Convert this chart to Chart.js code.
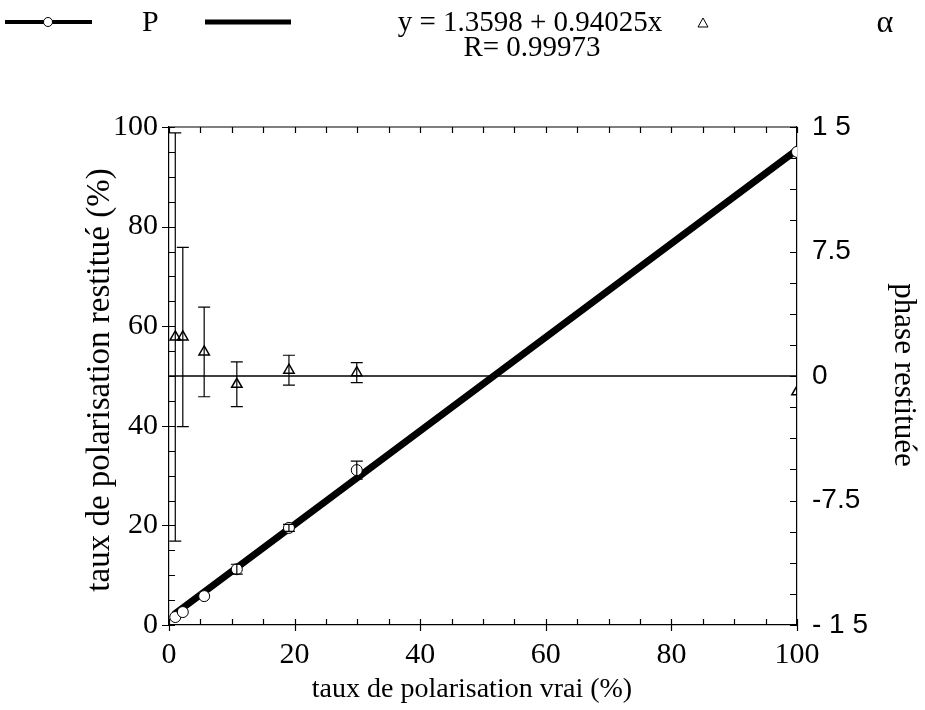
<!DOCTYPE html>
<html>
<head>
<meta charset="utf-8">
<script src="https://cdn.jsdelivr.net/npm/chart.js@4.4.1/dist/chart.umd.min.js"></script>
<style>
  html, body { margin: 0; padding: 0; background: #fff; }
  #wrap { width: 925px; height: 710px; }
</style>
</head>
<body>
<div id="wrap"><canvas id="polarChart" width="925" height="710"></canvas></div>
<script>
// ==========================================
// DATA
// ==========================================

// taux de polarisation vrai (%)
const xVrai = [1.0, 2.2, 5.6, 10.8, 19.1, 29.9, 100];

// P : taux restitue (%)
const pY = [1.6, 2.6, 5.8, 11.2, 19.5, 31.1, 95.0];
const pErr = [0, 0, 0, 1.0, 0.7, 1.8, 0];

// alpha : phase restituee
const alphaY = [2.35, 2.35, 1.45, -0.5, 0.35, 0.2, -0.95];
const alphaErr = [12.3, 5.4, 2.7, 1.35, 0.9, 0.6, 0];

// droite de regression y = 1.3598 + 0.94025x
const fitX = [1.0, 100];
const fitY = [2.3, 95.4];

// ligne phase = 0
const zeroX = [0, 100];
const zeroY = [0, 0];

// ticks
const xMajorTicks = [0, 20, 40, 60, 80, 100];
const yMajorTicks = [0, 20, 40, 60, 80, 100];
const rightTickValues = [-15, -7.5, 0, 7.5, 15];
const rightTickLabels = ["- 1 5", "-7.5", "0", "7.5", "1 5"];

const serif = "'Liberation Serif', 'Times New Roman', serif";
const sans = "'Liberation Sans', Arial, sans-serif";

function pts(xs, ys){
    return xs.map((v, i) => ({ x: v, y: ys[i] }));
}

function rightLabel(v){
    const i = rightTickValues.findIndex(t => Math.abs(t - v) < 1e-6);
    return i < 0 ? "" : rightTickLabels[i];
}

// ==========================================
// PLUGIN : ticks interieurs + cadre
// ==========================================

const axisTicks = {
    id: "axisTicks",
    afterDatasetsDraw(chart){
        const { ctx, chartArea: a, scales } = chart;
        const { x, y, y2 } = scales;
        ctx.save();
        ctx.strokeStyle = "#000";
        ctx.lineWidth = 1.2;
        ctx.beginPath();

        // cadre haut
        ctx.moveTo(a.left, a.top);
        ctx.lineTo(a.right, a.top);

        x.ticks.forEach(t => {
            const px = Math.round(x.getPixelForValue(t.value)) + 0.5;
            const major = xMajorTicks.includes(t.value);
            ctx.moveTo(px, a.bottom + (major ? 6 : 0));
            ctx.lineTo(px, a.bottom - 6);
            ctx.moveTo(px, a.top);
            ctx.lineTo(px, a.top + 6);
        });

        y.ticks.forEach(t => {
            const py = Math.round(y.getPixelForValue(t.value)) + 0.5;
            const major = yMajorTicks.includes(t.value);
            ctx.moveTo(a.left - (major ? 7 : 0), py);
            ctx.lineTo(a.left + 6, py);
        });

        y2.ticks.forEach(t => {
            const py = Math.round(y2.getPixelForValue(t.value)) + 0.5;
            ctx.moveTo(a.right - 7, py);
            ctx.lineTo(a.right, py);
        });

        ctx.stroke();
        ctx.restore();
    }
};

// ==========================================
// PLUGIN : barres d'erreur
// ==========================================

const errorBars = {
    id: "errorBars",
    afterDatasetsDraw(chart){
        const { ctx, chartArea: a, scales } = chart;
        const cap = 6;
        ctx.save();
        ctx.beginPath();
        ctx.rect(a.left, a.top - 2, a.right - a.left, a.bottom - a.top + 4);
        ctx.clip();
        ctx.strokeStyle = "#000";
        ctx.lineWidth = 1.2;

        function bars(ys, errs, scale){
            xVrai.forEach((xv, i) => {
                if(!errs[i]) return;
                const px = scales.x.getPixelForValue(xv);
                const top = scale.getPixelForValue(ys[i] + errs[i]);
                const bot = scale.getPixelForValue(ys[i] - errs[i]);
                ctx.beginPath();
                ctx.moveTo(px, top);
                ctx.lineTo(px, bot);
                ctx.moveTo(px - cap, top);
                ctx.lineTo(px + cap, top);
                ctx.moveTo(px - cap, bot);
                ctx.lineTo(px + cap, bot);
                ctx.stroke();
            });
        }

        bars(alphaY, alphaErr, scales.y2);
        bars(pY, pErr, scales.y);
        ctx.restore();
    }
};

// ==========================================
// PLUGIN : legende + titres
// ==========================================

const textLayer = {
    id: "textLayer",
    afterDraw(chart){
        const { ctx } = chart;
        ctx.save();
        ctx.fillStyle = "#000";
        ctx.strokeStyle = "#000";

        // legende P
        ctx.lineWidth = 4;
        ctx.beginPath();
        ctx.moveTo(5, 22);
        ctx.lineTo(92, 22);
        ctx.stroke();
        ctx.lineWidth = 1;
        ctx.fillStyle = "#fff";
        ctx.beginPath();
        ctx.arc(48, 22, 4.5, 0, Math.PI * 2);
        ctx.fill();
        ctx.stroke();
        ctx.fillStyle = "#000";

        ctx.font = "30px " + serif;
        ctx.textBaseline = "middle";
        ctx.textAlign = "left";
        ctx.fillText("P", 142, 23);

        // legende regression
        ctx.lineWidth = 5;
        ctx.beginPath();
        ctx.moveTo(205, 22);
        ctx.lineTo(291, 22);
        ctx.stroke();

        ctx.textAlign = "center";
        ctx.font = "29px " + serif;
        ctx.fillText("y = 1.3598 + 0.94025x", 530, 23);
        ctx.fillText("R= 0.99973", 532, 48);

        // legende alpha
        ctx.lineWidth = 1;
        ctx.beginPath();
        ctx.moveTo(703, 18);
        ctx.lineTo(708, 27);
        ctx.lineTo(698, 27);
        ctx.closePath();
        ctx.stroke();
        ctx.font = "32px " + serif;
        ctx.fillText("\u03b1", 885, 24);

        // titres des axes
        ctx.font = "28px " + serif;
        ctx.fillText("taux de polarisation vrai (%)", 472, 690);

        ctx.save();
        ctx.font = "33px " + serif;
        ctx.translate(100, 380);
        ctx.rotate(-Math.PI / 2);
        ctx.fillText("taux de polarisation restitu\u00e9 (%)", 0, 0);
        ctx.restore();

        ctx.save();
        ctx.font = "31px " + serif;
        ctx.translate(903, 375);
        ctx.rotate(Math.PI / 2);
        ctx.fillText("phase restitu\u00e9e", 0, 0);
        ctx.restore();

        ctx.restore();
    }
};

// ==========================================
// CHART
// ==========================================

const ctx = document.getElementById("polarChart").getContext("2d");

const chart = new Chart(ctx, {

    type: "scatter",

    data: {
        datasets: [
            {
                label: "P",
                data: pts(xVrai, pY),
                yAxisID: "y",
                showLine: false,
                pointStyle: "circle",
                pointRadius: 5.5,
                pointBorderWidth: 1,
                pointBackgroundColor: "#fff",
                pointBorderColor: "#000"
            },
            {
                label: "alpha",
                data: pts(xVrai, alphaY),
                yAxisID: "y2",
                showLine: false,
                pointStyle: "triangle",
                pointRadius: 6,
                pointBorderWidth: 1.5,
                pointBackgroundColor: "rgba(255,255,255,0)",
                pointBorderColor: "#000"
            },
            {
                label: "fit",
                data: pts(fitX, fitY),
                yAxisID: "y",
                showLine: true,
                borderColor: "#000",
                borderWidth: 7,
                borderCapStyle: "round",
                pointRadius: 0
            },
            {
                label: "zero",
                data: pts(zeroX, zeroY),
                yAxisID: "y2",
                showLine: true,
                borderColor: "#000",
                borderWidth: 1.3,
                pointRadius: 0
            }
        ]
    },

    options: {
        responsive: false,
        animation: false,
        devicePixelRatio: 1,
        layout: { padding: { top: 127, left: 0, right: 0, bottom: 0 } },
        plugins: {
            legend: { display: false },
            tooltip: { enabled: false }
        },
        scales: {
            x: {
                type: "linear",
                position: "bottom",
                min: 0,
                max: 100,
                afterFit: s => { s.height = 85; },
                grid: { drawOnChartArea: false, drawTicks: false },
                border: { color: "#000", width: 1.2 },
                ticks: {
                    stepSize: 5,
                    autoSkip: false,
                    maxRotation: 0,
                    padding: 12,
                    color: "#000",
                    font: { family: serif, size: 30 },
                    callback: v => xMajorTicks.includes(v) ? String(v) : ""
                }
            },
            y: {
                type: "linear",
                position: "left",
                min: 0,
                max: 100,
                afterFit: s => { s.width = 169; },
                grid: { drawOnChartArea: false, drawTicks: false },
                border: { color: "#000", width: 1.2 },
                ticks: {
                    stepSize: 5,
                    autoSkip: false,
                    padding: 11,
                    color: "#000",
                    font: { family: serif, size: 30 },
                    callback: v => yMajorTicks.includes(v) ? String(v) : ""
                }
            },
            y2: {
                type: "linear",
                position: "right",
                min: -15,
                max: 15,
                afterFit: s => { s.width = 128; },
                grid: { drawOnChartArea: false, drawTicks: false },
                border: { color: "#000", width: 1.2 },
                ticks: {
                    stepSize: 1.875,
                    autoSkip: false,
                    padding: 15,
                    color: "#000",
                    font: { family: sans, size: 28 },
                    callback: v => rightLabel(v)
                }
            }
        }
    },

    plugins: [axisTicks, errorBars, textLayer]

});
</script>
</body>
</html>
